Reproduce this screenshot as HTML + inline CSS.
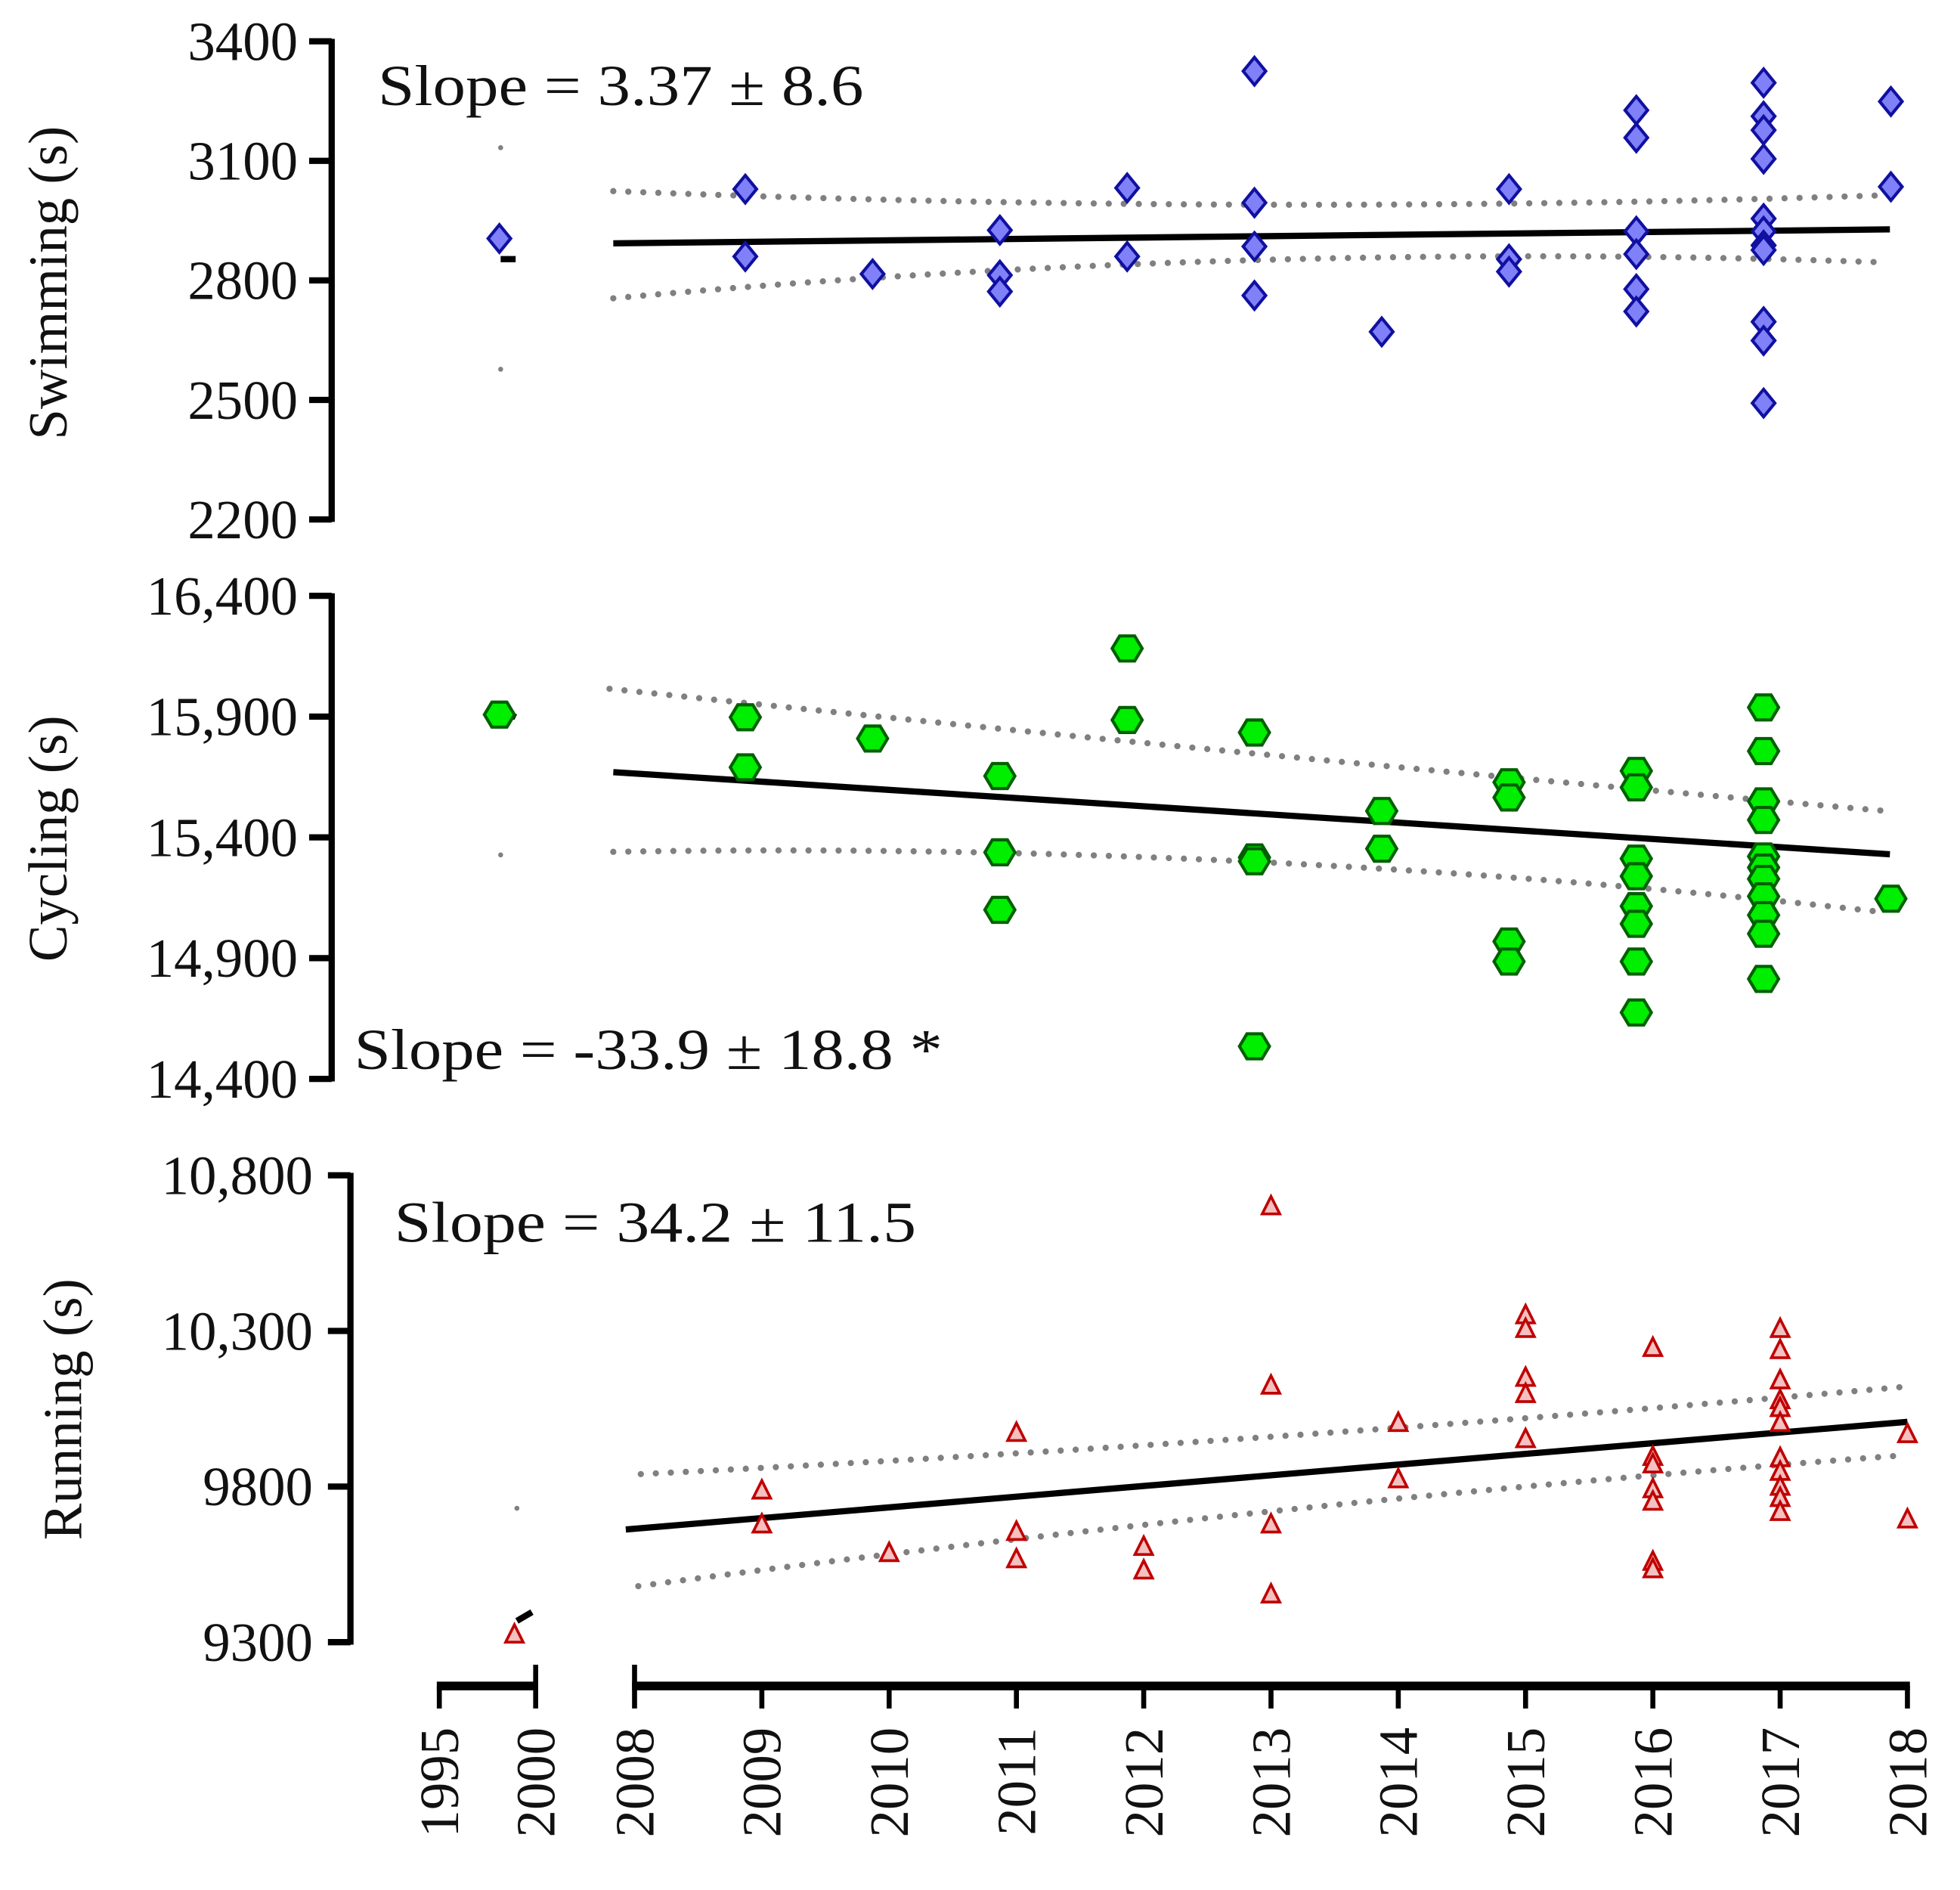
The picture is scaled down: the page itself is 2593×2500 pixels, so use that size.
<!DOCTYPE html>
<html><head><meta charset="utf-8">
<style>
html,body{margin:0;padding:0;background:#fff;}
svg{display:block;}
text{font-family:"Liberation Serif",serif;fill:#111;}
</style></head>
<body>
<svg id="chart" width="2593" height="2500" viewBox="0 0 1566 1510" preserveAspectRatio="none" xmlns="http://www.w3.org/2000/svg">
<g id="axes"></g>
<g id="marks"></g>
<text x="302" y="84" font-size="46" textLength="388" lengthAdjust="spacingAndGlyphs">Slope = 3.37 ± 8.6</text>
<text x="283" y="854" font-size="46" textLength="470" lengthAdjust="spacingAndGlyphs">Slope = -33.9 ± 18.8 *</text>
<text x="315" y="992" font-size="46" textLength="417" lengthAdjust="spacingAndGlyphs">Slope = 34.2 ± 11.5</text>
<text transform="translate(53,226) rotate(-90)" text-anchor="middle" font-size="44">Swimming (s)</text>
<text transform="translate(53,670) rotate(-90)" text-anchor="middle" font-size="44">Cycling (s)</text>
<text transform="translate(65,1126) rotate(-90)" text-anchor="middle" font-size="44">Running (s)</text>
</svg>
<script>
const xTickYears = [1995,2000,2008,2009,2010,2011,2012,2013,2014,2015,2016,2017,2018];
const xTickLabels = ["1995","2000","2008","2009","2010","2011","2012","2013","2014","2015","2016","2017","2018"];
const swimTicks = [3400,3100,2800,2500,2200];
const swimTickLabels = ["3400","3100","2800","2500","2200"];
const cycleTicks = [16400,15900,15400,14900,14400];
const cycleTickLabels = ["16,400","15,900","15,400","14,900","14,400"];
const runTicks = [10800,10300,9800,9300];
const runTickLabels = ["10,800","10,300","9800","9300"];

const swimEarly = [2905];
const swimYear = [2009,2009,2010,2011,2011,2011,2012,2012,2013,2013,2013,2013,2014,2015,2015,2015,2016,2016,2016,2016,2016,2016,2017,2017,2017,2017,2017,2017,2017,2017,2017,2017,2017,2018,2018];
const swimValues = [3029,2860,2816,2926,2813,2772,3032,2860,3325,2995,2885,2762,2671,3029,2853,2822,3227,3158,2923,2866,2778,2722,3296,3212,3177,3105,2955,2923,2888,2876,2696,2649,2492,3249,3035];

const cycleEarly = [15908];
const cycleYear = [2009,2009,2010,2011,2011,2011,2012,2012,2013,2013,2013,2013,2014,2014,2015,2015,2015,2015,2016,2016,2016,2016,2016,2016,2016,2016,2017,2017,2017,2017,2017,2017,2017,2017,2017,2017,2017,2018];
const cycleValues = [15897,15690,15809,15654,15338,15100,16182,15886,15834,15317,15301,14535,15509,15353,15628,15565,14969,14886,15675,15607,15312,15239,15115,15042,14886,14675,15938,15757,15549,15472,15321,15275,15228,15156,15078,15001,14814,15146];

const runEarly = [9324];
const runYear = [2009,2009,2010,2011,2011,2011,2012,2012,2013,2013,2013,2013,2014,2014,2015,2015,2015,2015,2015,2016,2016,2016,2016,2016,2016,2016,2017,2017,2017,2017,2017,2017,2017,2017,2017,2017,2017,2018,2018];
const runValues = [9787,9678,9586,9972,9654,9566,9606,9530,10700,10124,9678,9453,10004,9823,10350,10306,10149,10097,9952,10245,9895,9871,9791,9751,9558,9534,10306,10238,10141,10077,10052,10004,9891,9847,9799,9763,9718,9968,9694];

const swimFit = [2893,2910,2928];
const swimUpper = [3024,2990,3014];
const swimLower = [2755,2850,2846];
const cycleFit = [15670,15500,15330];
const cycleUpper = [16015,15750,15510];
const cycleLower = [15340,15300,15090];
const runFit = [9662,9835,10008];
const runUpper = [9840,9960,10120];
const runLower = [9480,9720,9900];

const NS = "http://www.w3.org/2000/svg";
const axesG = document.getElementById('axes');
const marksG = document.getElementById('marks');
function el(tag, attrs, parent){
  const e = document.createElementNS(NS, tag);
  for (const k in attrs) e.setAttribute(k, attrs[k]);
  (parent||marksG).appendChild(e);
  return e;
}
function xMain(yr){ return 507 + (yr-2008)*101.7; }
function xBreak(yr){ return 351 + (yr-1995)*(428-351)/5; }
function xTick(yr){ return yr<2008 ? xBreak(yr) : xMain(yr); }
function ySwim(v){ return 33 + (3400-v)*(415-33)/1200; }
function yCycle(v){ return 476 + (16400-v)*(862-476)/2000; }
function yRun(v){ return 939 + (10800-v)*(1312-939)/1500; }

function yAxis(name, ax, y0, y1, ticks, labels, yf, labelX){
  const l = el('line',{x1:ax,y1:y0-2,x2:ax,y2:y1+2,stroke:'#000','stroke-width':5},axesG);
  
  
  ticks.forEach((t,i)=>{
    const y = yf(t);
    const tk = el('line',{x1:ax-18,y1:y,x2:ax,y2:y,stroke:'#000','stroke-width':5},axesG);
    
    
    const tx = el('text',{x:labelX,y:y+15,'text-anchor':'end','font-size':44},axesG);
    tx.textContent = labels[i];
    
    
  });
}
yAxis('swim',265,33,415,swimTicks,swimTickLabels,ySwim,238);
yAxis('cycle',265,476,862,cycleTicks,cycleTickLabels,yCycle,238);
yAxis('run',280,939,1312,runTicks,runTickLabels,yRun,250);

const XY = 1347;
let seg = el('line',{x1:349,y1:XY,x2:430,y2:XY,stroke:'#000','stroke-width':7},axesG);


seg = el('line',{x1:505,y1:XY,x2:1526,y2:XY,stroke:'#000','stroke-width':7},axesG);


xTickYears.forEach((yr,i)=>{
  const x = xTick(yr);
  const up = (yr===2000||yr===2008) ? 1330 : XY;
  const t = el('line',{x1:x,y1:up,x2:x,y2:1365,stroke:'#000','stroke-width':4},axesG);
  
  
  const tx = el('text',{transform:`translate(${x+15},1380) rotate(-90)`,'text-anchor':'end','font-size':44},axesG);
  tx.textContent = xTickLabels[i];
  
  
});

function fitPath(vals, yf, xs, xe, dotted, name){
  const xm = (xs+xe)/2;
  const p0 = [xs, yf(vals[0])], p1 = [xm, yf(vals[1])], p2 = [xe, yf(vals[2])];
  const cx = 2*p1[0] - (p0[0]+p2[0])/2, cy = 2*p1[1] - (p0[1]+p2[1])/2;
  const attrs = {d:`M${p0[0]},${p0[1]} Q${cx},${cy} ${p2[0]},${p2[1]}`, fill:'none'};
  if (dotted){ attrs.stroke='#808080'; attrs['stroke-width']=5; attrs['stroke-dasharray']='0 12'; attrs['stroke-linecap']='round'; }
  else { attrs.stroke='#000'; attrs['stroke-width']=5; }
  const p = el('path', attrs);
  
  
}
fitPath(swimUpper, ySwim, 490, 1510, true, 'swim-ci-upper');
fitPath(swimLower, ySwim, 490, 1497, true, 'swim-ci-lower');
fitPath(swimFit, ySwim, 490, 1510, false, 'swim-regression-line');
fitPath(cycleUpper, yCycle, 487, 1505, true, 'cycle-ci-upper');
fitPath(cycleLower, yCycle, 490, 1505, true, 'cycle-ci-lower');
fitPath(cycleFit, yCycle, 490, 1510, false, 'cycle-regression-line');
fitPath(runUpper, yRun, 512, 1520, true, 'run-ci-upper');
fitPath(runLower, yRun, 510, 1520, true, 'run-ci-lower');
fitPath(runFit, yRun, 500, 1524, false, 'run-regression-line');

let f;
f = el('line',{x1:400,y1:207,x2:412,y2:207,stroke:'#000','stroke-width':5});


f = el('line',{x1:400,y1:567,x2:412,y2:573,stroke:'#000','stroke-width':5});


f = el('line',{x1:413,y1:1295,x2:425,y2:1288,stroke:'#000','stroke-width':5});


[[400,118],[400,295],[400,683],[413,1205]].forEach(d=>{
  const c = el('circle',{cx:d[0],cy:d[1],r:2,fill:'#808080'});
  
  
});

function diamond(x,y){
  const p = el('polygon',{points:`${x},${y-11} ${x+9},${y} ${x},${y+11} ${x-9},${y}`,fill:'#8080f8',stroke:'#1010a0','stroke-width':2.5});
  
  
}
function hexagon(x,y){
  const p = el('polygon',{points:`${x-12},${y} ${x-6},${y-10} ${x+6},${y-10} ${x+12},${y} ${x+6},${y+10} ${x-6},${y+10}`,fill:'#00ee00',stroke:'#006000','stroke-width':2.5});
  
  
}
function triangle(x,y){
  const p = el('polygon',{points:`${x},${y-8} ${x+7},${y+6} ${x-7},${y+6}`,fill:'#f4c0c0',stroke:'#c00000','stroke-width':2.2});
  
  
}
const OFF = -0.13;
swimEarly.forEach(v=>diamond(399, ySwim(v)));
swimValues.forEach((v,i)=>diamond(xMain(swimYear[i]+OFF), ySwim(v)));
cycleEarly.forEach(v=>hexagon(399, yCycle(v)));
cycleValues.forEach((v,i)=>hexagon(xMain(cycleYear[i]+OFF), yCycle(v)));
runEarly.forEach(v=>triangle(411, yRun(v)));
runValues.forEach((v,i)=>triangle(xMain(runYear[i]), yRun(v)));
</script>
</body></html>
